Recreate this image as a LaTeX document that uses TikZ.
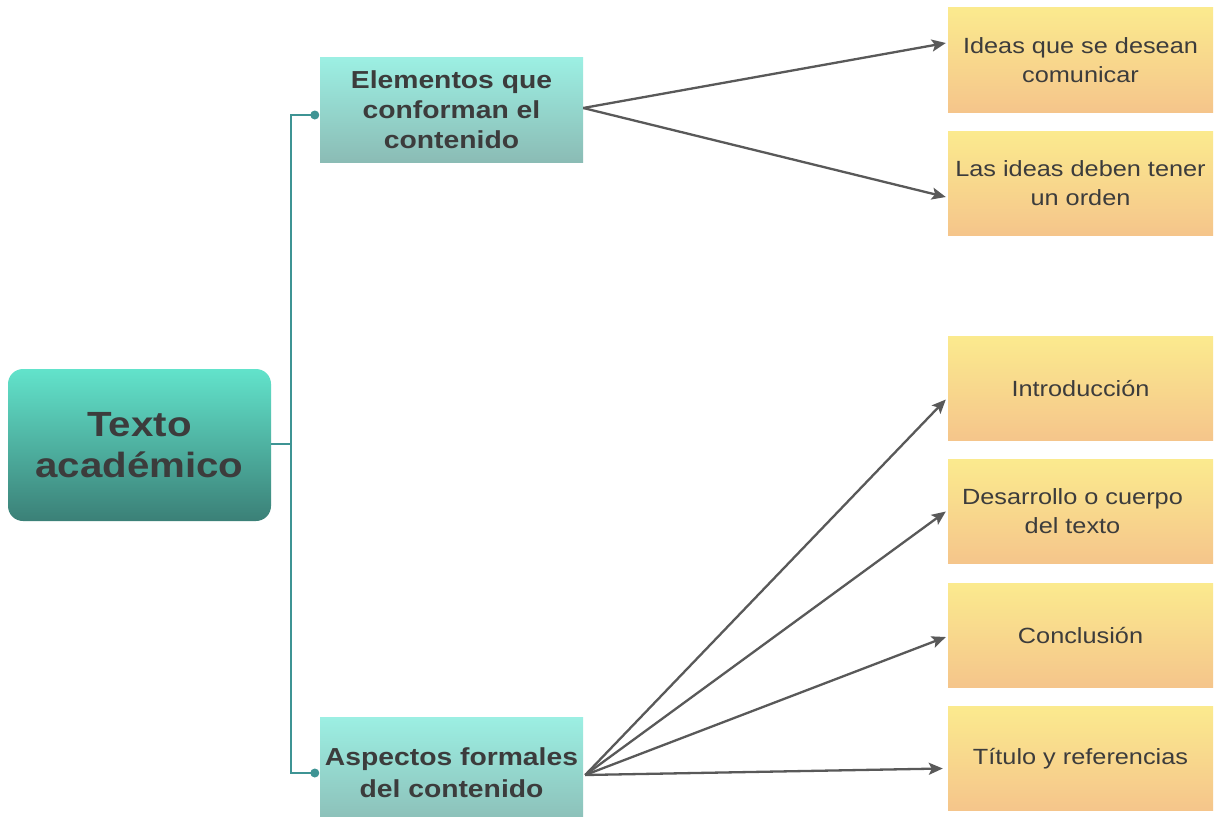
\documentclass[tikz,border=0pt]{standalone}
\usepackage{fontspec}
\setmainfont{Liberation Sans}[FakeStretch=1.15]
\usetikzlibrary{arrows.meta,calc}
\definecolor{txt}{HTML}{3C3C3C}
\definecolor{mainTop}{HTML}{62E3CB}
\definecolor{mainBot}{HTML}{3B8077}
\definecolor{tealTop}{HTML}{9CEFE3}
\definecolor{tealBot}{HTML}{8BBCB5}
\definecolor{yelTop}{HTML}{FBEA8E}
\definecolor{yelBot}{HTML}{F5C58B}
\definecolor{branch}{HTML}{3E9494}
\definecolor{arr}{HTML}{595959}
\tikzset{
  mainbox/.style={rounded corners=15pt, top color=mainTop, bottom color=mainBot,
    minimum width=263pt, minimum height=152pt, inner sep=0pt, align=center,
    text=txt, font=\fontsize{35}{41}\selectfont\bfseries},
  subbox/.style={top color=tealTop, bottom color=tealBot, minimum width=263pt,
    inner sep=0pt, align=center, text=txt, font=\fontsize{24.6}{30}\selectfont\bfseries},
  leafbox/.style={top color=yelTop, bottom color=yelBot, minimum width=265pt,
    minimum height=104pt, inner sep=0pt, align=center, text=txt,
    font=\fontsize{22}{29}\selectfont},
  branchline/.style={draw=branch, line width=2pt},
  branchdot/.style={circle, fill=branch, inner sep=0pt, minimum size=9pt},
  arrowline/.style={draw=arr, line width=2.3pt, -{Stealth[length=14pt,width=12pt,inset=3pt]}}
}
\begin{document}
\begin{tikzpicture}[x=1pt,y=-1pt]
\useasboundingbox (0,0) rectangle (1214,816);
\fill[white] (0,0) rectangle (1214,816);
% nodes
\node[mainbox] (main) at (139.5,445) {Texto\\acad\'emico};
\node[subbox, minimum height=104pt] (b1) at (451.5,110) {Elementos que\\conforman el\\contenido};
\node[subbox, minimum height=112pt, font=\fontsize{24.6}{32}\selectfont\bfseries] (b2) at (451.5,773) {Aspectos formales\\del contenido};
\node[leafbox] (l1) at (1080.5,60) {Ideas que se desean\\comunicar};
\node[leafbox] (l2) at (1080.5,183) {Las ideas deben tener\\un orden};
\node[leafbox] (l3) at (1080.5,388.5) {Introducci\'on};
\node[leafbox] (l4) at (1080.5,511.5) {Desarrollo o cuerpo\hspace*{16pt}\\del texto\hspace*{16pt}};
\node[leafbox] (l5) at (1080.5,635) {Conclusi\'on};
\node[leafbox] (l6) at (1080.5,758.5) {T\'itulo y referencias};
% branch connectors
\coordinate (j) at (291,444);
\coordinate (d1) at ($(b1.west)+(-5,5)$);
\coordinate (d2) at ($(b2.west)+(-5,0)$);
\draw[branchline] (main.east |- j) -- (j);
\draw[branchline] (d1) -| (j) |- (d2);
\node[branchdot] (dot1) at (d1) {};
\node[branchdot] (dot2) at (d2) {};
% arrows
\coordinate (s1) at ($(b1.east)+(0,-2)$);
\coordinate (s2) at ($(b2.east)+(2,2)$);
\draw[arrowline] (s1) -- ($(l1.west)+(-2,-17)$);
\draw[arrowline] (s1) -- ($(l2.west)+(-2,14)$);
\draw[arrowline] (s2) -- ($(l3.west)+(-2,11)$);
\draw[arrowline] (s2) -- ($(l4.west)+(-2,0)$);
\draw[arrowline] (s2) -- ($(l5.west)+(-2,2)$);
\draw[arrowline] (s2) -- ($(l6.west)+(-5,10)$);
\end{tikzpicture}
\end{document}
